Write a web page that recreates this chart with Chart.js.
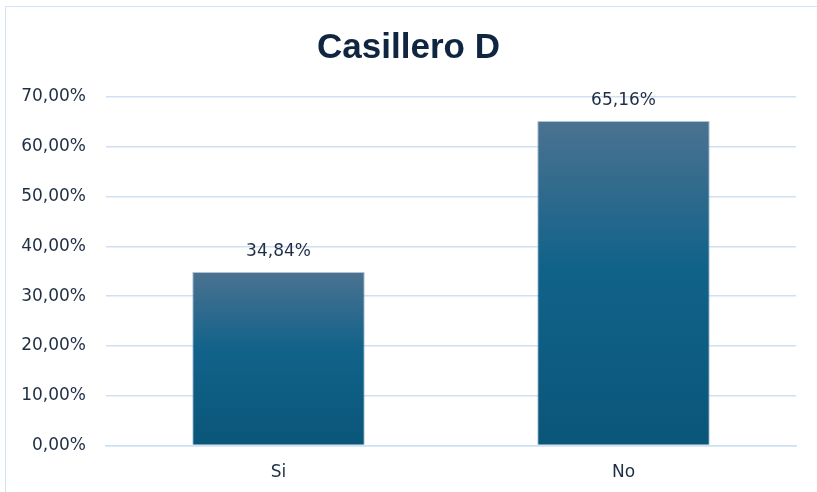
<!DOCTYPE html>
<html lang="es">
<head>
  <meta charset="UTF-8">
  <title>Casillero D</title>
  <script src="https://cdn.jsdelivr.net/npm/chart.js"></script>
  <style>
    html, body { margin: 0; padding: 0; background: #fff; overflow: hidden; }
    #frame { position: absolute; left: 5px; top: 6px; width: 830px; height: 520px; border: 1.5px solid #d3e3f4; }
    #chartContainer { position: absolute; left: 0; top: 0; width: 817px; height: 512px; }
  </style>
</head>
<body>
  <div id="frame"></div>
  <div id="chartContainer">
    <canvas id="casilleroChart"></canvas>
  </div>
  <script>
    // datos
    const categories = ['Si', 'No'];
    const values = [34.84, 65.16];
    const yTicks = [0, 10, 20, 30, 40, 50, 60, 70];

    const textColor = '#1f2e44';
    const labelFont = '"DejaVu Sans", sans-serif';
    const fmt = v => v.toFixed(2).replace('.', ',') + '%';

    // gradiente por barra (claro arriba, oscuro abajo)
    function barGradient(context) {
      const chart = context.chart;
      if (!chart.chartArea) return '#0f5f84';
      const y = chart.scales.y;
      const top = y.getPixelForValue(values[context.dataIndex]);
      const bottom = y.getPixelForValue(0);
      const g = chart.ctx.createLinearGradient(0, top, 0, bottom);
      g.addColorStop(0, '#4b7290');
      g.addColorStop(0.45, '#11628a');
      g.addColorStop(1, '#0a5679');
      return g;
    }

    // etiquetas de valor encima de las barras
    const valueLabels = {
      id: 'valueLabels',
      afterDatasetsDraw(chart) {
        const ctx = chart.ctx;
        const meta = chart.getDatasetMeta(0);
        ctx.save();
        ctx.font = '17px ' + labelFont;
        ctx.fillStyle = textColor;
        ctx.textAlign = 'center';
        ctx.textBaseline = 'bottom';
        meta.data.forEach((bar, i) => {
          ctx.fillText(fmt(values[i]), bar.x, bar.y - 12);
        });
        ctx.restore();
      }
    };

    new Chart(document.getElementById('casilleroChart'), {
      type: 'bar',
      data: {
        labels: categories,
        datasets: [{
          data: values,
          backgroundColor: barGradient,
          borderColor: 'rgba(140,170,195,0.7)',
          borderWidth: 1,
          categoryPercentage: 1,
          barPercentage: 0.5
        }]
      },
      options: {
        responsive: true,
        maintainAspectRatio: false,
        animation: false,
        layout: { padding: { left: 21, right: 21, top: 0, bottom: 12 } },
        plugins: {
          legend: { display: false },
          tooltip: { enabled: false },
          title: {
            display: true,
            text: 'Casillero D',
            color: '#0f2540',
            font: { family: '"Liberation Sans", Arial, sans-serif', size: 35, weight: 'bold' },
            padding: { top: 27, bottom: 28 }
          }
        },
        scales: {
          y: {
            min: 0,
            max: 70,
            afterBuildTicks: axis => { axis.ticks = yTicks.map(v => ({ value: v })); },
            afterFit: axis => { axis.width = 85; },
            border: { display: false },
            grid: { color: '#cfe0f3', lineWidth: 1.5, drawTicks: false },
            ticks: {
              color: textColor,
              padding: 20,
              font: { family: labelFont, size: 17 },
              callback: v => fmt(v)
            }
          },
          x: {
            border: { color: '#cfe0f3', width: 1.5 },
            grid: { display: false, drawTicks: false },
            ticks: {
              color: textColor,
              padding: 17,
              font: { family: labelFont, size: 17 }
            }
          }
        }
      },
      plugins: [valueLabels]
    });
  </script>
</body>
</html>
